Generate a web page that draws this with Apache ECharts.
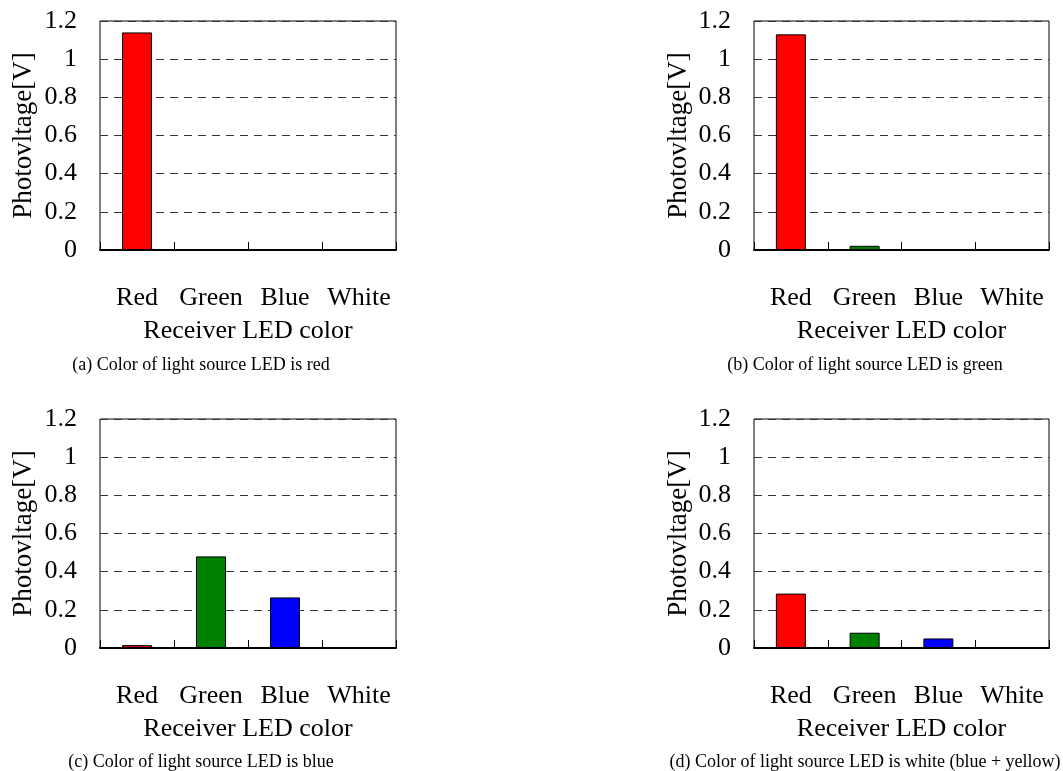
<!DOCTYPE html>
<html>
<head>
<meta charset="utf-8">
<script src="https://cdn.jsdelivr.net/npm/echarts@6/dist/echarts.min.js"></script>
<style>
    html, body { margin: 0; padding: 0; background: #fff; }
    #chart { width: 1063px; height: 771px; }
</style>
</head>
<body>
<div id="chart"></div>
<script>
// receiver LED colours (x categories)
var categories = ['Red', 'Green', 'Blue', 'White'];
// bar fill for each receiver
var barColors = ['#ff0000', '#008000', '#0000ff', '#ffffff'];

// photovoltage [V] per light source LED
var sourceRed = [1.14, 0, 0, 0];
var sourceGreen = [1.13, 0.022, 0, 0];
var sourceBlue = [0.015, 0.48, 0.265, 0];
var sourceWhite = [0.285, 0.08, 0.05, 0];

// y axis range
var yMin = 0, yMax = 1.2, yStep = 0.2;

var captions = [
    '(a) Color of light source LED is red',
    '(b) Color of light source LED is green',
    '(c) Color of light source LED is blue',
    '(d) Color of light source LED is white (blue + yellow)'
];

var FONT = 'Liberation Serif, "Times New Roman", serif';

// panel boxes
var panels = [
    {left: 100, top: 21, width: 296, height: 229, capX: 201, capY: 365, data: sourceRed, gap: 63},
    {left: 754, top: 21, width: 295, height: 229, capX: 865, capY: 365, data: sourceGreen, gap: 62},
    {left: 100, top: 419, width: 296, height: 229, capX: 201, capY: 762, data: sourceBlue, gap: 63},
    {left: 754, top: 419, width: 295, height: 229, capX: 865, capY: 762, data: sourceWhite, gap: 62}
];

var grid = [], xAxis = [], yAxis = [], series = [], graphic = [];

panels.forEach(function (p, i) {
    grid.push({
        left: p.left, top: p.top, width: p.width, height: p.height,
        show: true, borderColor: '#000', borderWidth: 1, backgroundColor: '#fff'
    });
    xAxis.push({
        type: 'category', gridIndex: i, data: categories,
        name: 'Receiver LED color', nameLocation: 'middle', nameGap: 68,
        nameTextStyle: {fontFamily: FONT, fontSize: 26, color: '#000'},
        axisLine: {show: true, lineStyle: {color: '#000', width: 2}},
        axisTick: {show: true, inside: true, interval: 0, length: 8, lineStyle: {color: '#000', width: 1}},
        axisLabel: {interval: 0, margin: 35, fontFamily: FONT, fontSize: 26, color: '#000'},
        splitLine: {show: false}
    });
    yAxis.push({
        type: 'value', gridIndex: i, min: yMin, max: yMax, interval: yStep,
        name: 'Photovltage[V]', nameLocation: 'middle', nameGap: p.gap,
        nameTextStyle: {fontFamily: FONT, fontSize: 27, color: '#000'},
        axisLine: {show: false},
        axisTick: {show: false},
        axisLabel: {margin: 23, fontFamily: FONT, fontSize: 26, color: '#000'},
        splitLine: {show: true, lineStyle: {color: '#333', type: [8, 6], width: 1}}
    });
    series.push({
        type: 'bar', xAxisIndex: i, yAxisIndex: i,
        barWidth: 30,
        data: p.data.map(function (v, k) {
            return {value: v, itemStyle: {color: barColors[k]}};
        }),
        itemStyle: {borderColor: '#000', borderWidth: 1},
        animation: false
    });
    graphic.push({
        type: 'text', x: p.capX, y: p.capY,
        style: {
            text: captions[i], font: '18px ' + FONT, fill: '#000',
            align: 'center', verticalAlign: 'middle'
        }
    });
});

var myChart = echarts.init(document.getElementById('chart'));
myChart.setOption({
    animation: false,
    backgroundColor: '#fff',
    grid: grid,
    xAxis: xAxis,
    yAxis: yAxis,
    series: series,
    graphic: graphic
});
</script>
</body>
</html>
